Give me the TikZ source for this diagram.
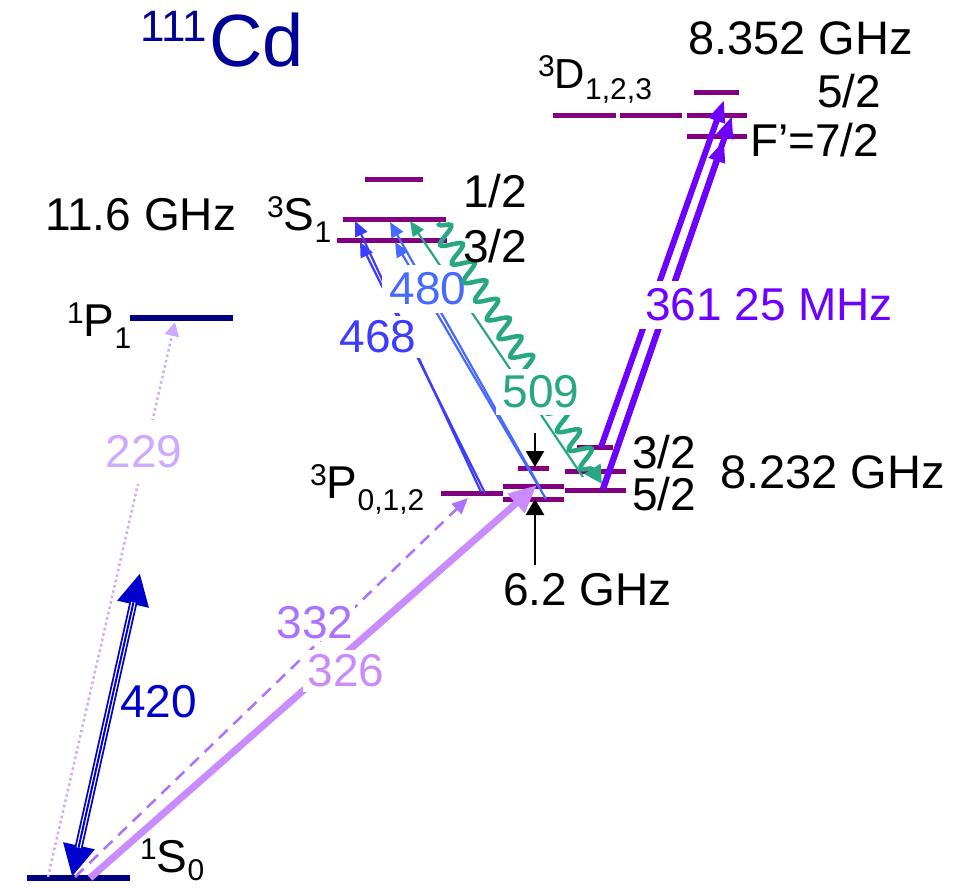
\documentclass[tikz,border=0pt]{standalone}
\usepackage{fontspec}
\setmainfont{Liberation Sans}
\usetikzlibrary{arrows.meta,decorations.pathmorphing}
\definecolor{navylvl}{RGB}{0,0,128}
\definecolor{titleblue}{RGB}{0,0,150}
\definecolor{plvl}{RGB}{128,0,128}
\definecolor{c420}{RGB}{0,0,204}
\definecolor{c229}{RGB}{204,170,255}
\definecolor{c332}{RGB}{170,115,255}
\definecolor{c326}{RGB}{200,140,255}
\definecolor{c468}{RGB}{60,60,255}
\definecolor{c480}{RGB}{70,105,255}
\definecolor{c509}{RGB}{40,168,130}
\definecolor{c361}{RGB}{110,0,255}
\newcommand{\bigf}{\fontsize{46}{48}\selectfont}
\newcommand{\smf}{\fontsize{30}{30}\selectfont}
\newcommand{\termsym}[3]{\raisebox{13pt}{\smf #1}#2\raisebox{-12pt}{\smf #3}}
\begin{document}
\begin{tikzpicture}[x=1pt,y=-1pt,
  lvlP/.style={plvl, line width=5pt},
  lvlN/.style={navylvl, line width=6pt},
  lbl/.style={font=\bigf, inner sep=0pt, anchor=base west},
  wlbl/.style={font=\bigf, fill=white, inner sep=7pt},
  thinarr/.style={line width=2.2pt, -{Triangle[length=15pt,width=13pt]}},
  blackarr/.style={black, line width=2.5pt, -{Triangle[length=16pt,width=18pt]}},
  violetarr/.style={c361, line width=6pt, -{Triangle[length=22pt,width=16pt]}}]
\fill[white] (0,0) rectangle (971,888);
\useasboundingbox (0,0) rectangle (971,888);

% ---------- level coordinates ----------
\coordinate (s0a) at (27,878);   \coordinate (s0b) at (130,878);
\coordinate (p1a) at (130,318);  \coordinate (p1b) at (233,318);
\coordinate (s1ta) at (365,179); \coordinate (s1tb) at (423,179);
\coordinate (s1ua) at (343,219); \coordinate (s1ub) at (446,219);
\coordinate (s1la) at (337,240); \coordinate (s1lb) at (447,240);
\coordinate (p0a) at (441,493);  \coordinate (p0b) at (503,493);
\coordinate (p1ta) at (518,468); \coordinate (p1tb) at (549,468);
\coordinate (p1ua) at (503,486); \coordinate (p1ub) at (564,486);
\coordinate (p1la) at (503,499); \coordinate (p1lb) at (564,499);
\coordinate (p2ta) at (577,447); \coordinate (p2tb) at (613,447);
\coordinate (p2ua) at (565,471); \coordinate (p2ub) at (626,471);
\coordinate (p2la) at (565,490); \coordinate (p2lb) at (626,490);
\coordinate (d1a) at (553,116);  \coordinate (d1b) at (616,116);
\coordinate (d2a) at (620,116);  \coordinate (d2b) at (682,116);
\coordinate (d3a) at (687,116);  \coordinate (d3b) at (747,116);
\coordinate (d3ta) at (694,93);  \coordinate (d3tb) at (739,93);
\coordinate (d3la) at (687,136); \coordinate (d3lb) at (747,136);

% ---------- levels ----------
\draw[lvlN] (s0a) -- (s0b);
\draw[lvlN] (p1a) -- (p1b);
\foreach \a/\b in {s1ta/s1tb,s1ua/s1ub,s1la/s1lb,p0a/p0b,p1ta/p1tb,p1ua/p1ub,p1la/p1lb,
  p2ta/p2tb,p2ua/p2ub,p2la/p2lb,d1a/d1b,d2a/d2b,d3a/d3b,d3ta/d3tb,d3la/d3lb}
  \draw[lvlP] (\a) -- (\b);

% ---------- transition end points ----------
\coordinate (a229) at (48,877);   \coordinate (b229) at (175,322);
\coordinate (a420) at (72,877);   \coordinate (b420) at (140,573);
\coordinate (a332) at (75,877);   \coordinate (b332) at (468,498);
\coordinate (a326) at (90,878);   \coordinate (b326) at (537,485);
\coordinate (a468a) at (481,492); \coordinate (b468a) at (355,221);
\coordinate (a468b) at (485,493); \coordinate (b468b) at (360,242);
\coordinate (a480a) at (539,486); \coordinate (b480a) at (390,222);
\coordinate (a480b) at (546,499); \coordinate (b480b) at (395,242);
\coordinate (a509) at (583,477);  \coordinate (b509) at (410,221);
\coordinate (w509a) at (438,223); \coordinate (w509b) at (602,484);
\coordinate (a361a) at (601,447); \coordinate (b361a) at (724,100);
\coordinate (a361b) at (603,489); \coordinate (b361b) at (732,116);
\coordinate (c361b) at (724,140);
\coordinate (dn1) at (535,433);   \coordinate (dn2) at (535,467);
\coordinate (up1) at (535,565);   \coordinate (up2) at (535,499);

% ---------- transitions ----------
\draw[c229, line width=2.5pt, dash pattern=on 2.5pt off 3pt, -{Triangle[length=14pt,width=14pt]}] (a229) -- (b229);
\node[wlbl, text=c229, inner xsep=3pt, inner ysep=16pt] (l229) at (144,452) {229};

\draw[c420, line width=8pt, {Triangle[length=32pt,width=30pt]}-{Triangle[length=32pt,width=30pt]}] (a420) -- (b420);
\draw[white, line width=1.2pt, double=c420, double distance=2pt, shorten <=30pt, shorten >=30pt] (a420) -- (b420);
\node[lbl, text=c420] (l420) at (120,717) {420};

\draw[c332, line width=2.5pt, dash pattern=on 12pt off 8pt, -{Triangle[length=16pt,width=14pt]}] (a332) -- (b332);
\node[font=\bigf, fill=white, inner sep=2pt, text=c332] (l332) at (315,623) {332};
\draw[c326, line width=7pt, -{Triangle[length=28pt,width=24pt]}] (a326) -- (b326);
\node[wlbl, inner sep=5pt, text=c326] (l326) at (346,671) {326};

\draw[thinarr, c468] (a468a) -- (b468a);
\draw[thinarr, c468] (a468b) -- (b468b);
\draw[thinarr, c480] (a480a) -- (b480a);
\draw[thinarr, c480] (a480b) -- (b480b);
\draw[thinarr, c509] (a509) -- (b509);
\node[wlbl, text=c468, inner sep=5pt] (l468) at (378,337) {468};
\node[wlbl, text=c480, inner sep=8pt] (l480) at (428,289) {480};

\draw[c509, line width=4.5pt, decorate,
  decoration={snake, amplitude=10pt, segment length=22pt, pre length=2pt, post length=16pt},
  -{Triangle[length=18pt,width=18pt]}] (w509a) -- (w509b);
\node[wlbl, text=c509] (l509) at (541,392) {509};

\draw[violetarr] (a361a) -- (b361a);
\draw[violetarr] (a361b) -- (b361b);
\draw[violetarr] (a361b) -- (c361b);
\node[wlbl, text=c361, inner sep=8pt] (l361) at (769,305) {361 25 MHz};

\draw[blackarr] (dn1) -- (dn2);
\draw[blackarr] (up1) -- (up2);

% ---------- labels ----------
\node[lbl, text=titleblue, font=\fontsize{74}{76}\selectfont] (title) at (140,67)
  {\raisebox{25pt}{\fontsize{44}{44}\selectfont 111}\kern2pt Cd};
\node[lbl] (l116) at (45,230) {11.6 GHz};
\node[lbl] (ls1) at (267,230) {\termsym{3}{S}{1}};
\node[lbl] (lf12) at (463,207) {1/2};
\node[lbl] (lf32) at (463,262) {3/2};
\node[lbl] (lp1) at (67,336) {\termsym{1}{P}{1}};
\node[lbl] (lp012) at (310,498) {\termsym{3}{P}{0,1,2}};
\node[lbl] (l62) at (503,605) {6.2 GHz};
\node[lbl] (lr32) at (632,468) {3/2};
\node[lbl] (lr52) at (632,510) {5/2};
\node[lbl, font=\fontsize{47}{48}\selectfont] (l8232) at (720,488) {8.232 GHz};
\node[lbl, font=\fontsize{47}{48}\selectfont] (l8352) at (688,55) {8.352 GHz};
\node[lbl] (ld52) at (817,108) {5/2};
\node[lbl] (ldf72) at (750,157) {F’=7/2};
\node[lbl, font=\fontsize{42}{44}\selectfont] (ld123) at (538,89) {\raisebox{12pt}{\smf 3}D\raisebox{-10pt}{\smf 1,2,3}};
\node[lbl] (ls0) at (140,872) {\raisebox{13pt}{\smf 1}S\raisebox{-8pt}{\smf 0}};
\end{tikzpicture}
\end{document}
